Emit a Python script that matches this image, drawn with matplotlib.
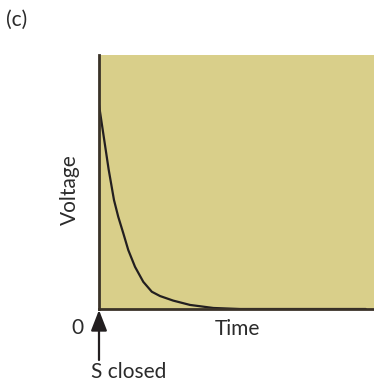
import matplotlib
matplotlib.use("Agg")
import matplotlib.pyplot as plt

# Data (time in arbitrary units 0-10, voltage normalised 0-1)
time_vals = [0.0, 0.35, 0.545, 0.70, 0.884, 1.065, 1.31, 1.61, 1.92, 2.22, 2.70, 3.31, 4.16, 5.13, 9.7]
voltage_vals = [0.803, 0.55, 0.429, 0.363, 0.298, 0.232, 0.166, 0.107, 0.068, 0.051, 0.033, 0.016, 0.004, 0.0, 0.0]
x_label = "Time"
y_label = "Voltage"
panel_label = "(c)"
origin_label = "0"
event_label = "S closed"

plt.rcParams['font.family'] = ['Lato', 'DejaVu Sans']

W, H = 374, 388
fig = plt.figure(figsize=(W / 100, H / 100), dpi=100)
ax = fig.add_axes([99 / W, (H - 309) / H, (W - 99) / W, (309 - 55) / H])
ax.set_facecolor('#d9cf8a')
ax.set_xlim(0, 10)
ax.set_ylim(0, 1)
ax.plot(time_vals, voltage_vals, color='#231f20', lw=1.6,
        solid_capstyle='round', solid_joinstyle='round')
for s in ['top', 'right']:
    ax.spines[s].set_visible(False)
for s in ['left', 'bottom']:
    ax.spines[s].set_color('#3a3228')
    ax.spines[s].set_linewidth(2.0)
ax.set_xticks([])
ax.set_yticks([])

txt_color = '#2b2b2b'
fs = 15
kw = dict(fontsize=fs, color=txt_color, fontweight='normal')
fig.text(70 / W, 1 - 190 / H, y_label, rotation=90, ha='center', va='center', **kw)
fig.text(237 / W, 1 - 329 / H, x_label, ha='center', va='center', **kw)
fig.text(77 / W, 1 - 328 / H, origin_label, ha='center', va='center', **kw)
fig.text(91 / W, 1 - 372 / H, event_label, ha='left', va='center', **kw)
fig.text(17 / W, 1 - 20 / H, panel_label, ha='center', va='center', **kw)

fig.patches.append(matplotlib.patches.FancyArrowPatch(
    (99 / W, 1 - 360 / H), (99 / W, 1 - 310 / H), transform=fig.transFigure,
    arrowstyle='-|>,head_length=0.9,head_width=0.35', mutation_scale=14,
    color='#231f20', lw=1.6, shrinkA=0, shrinkB=0))

fig.savefig('out.png', dpi=100)
